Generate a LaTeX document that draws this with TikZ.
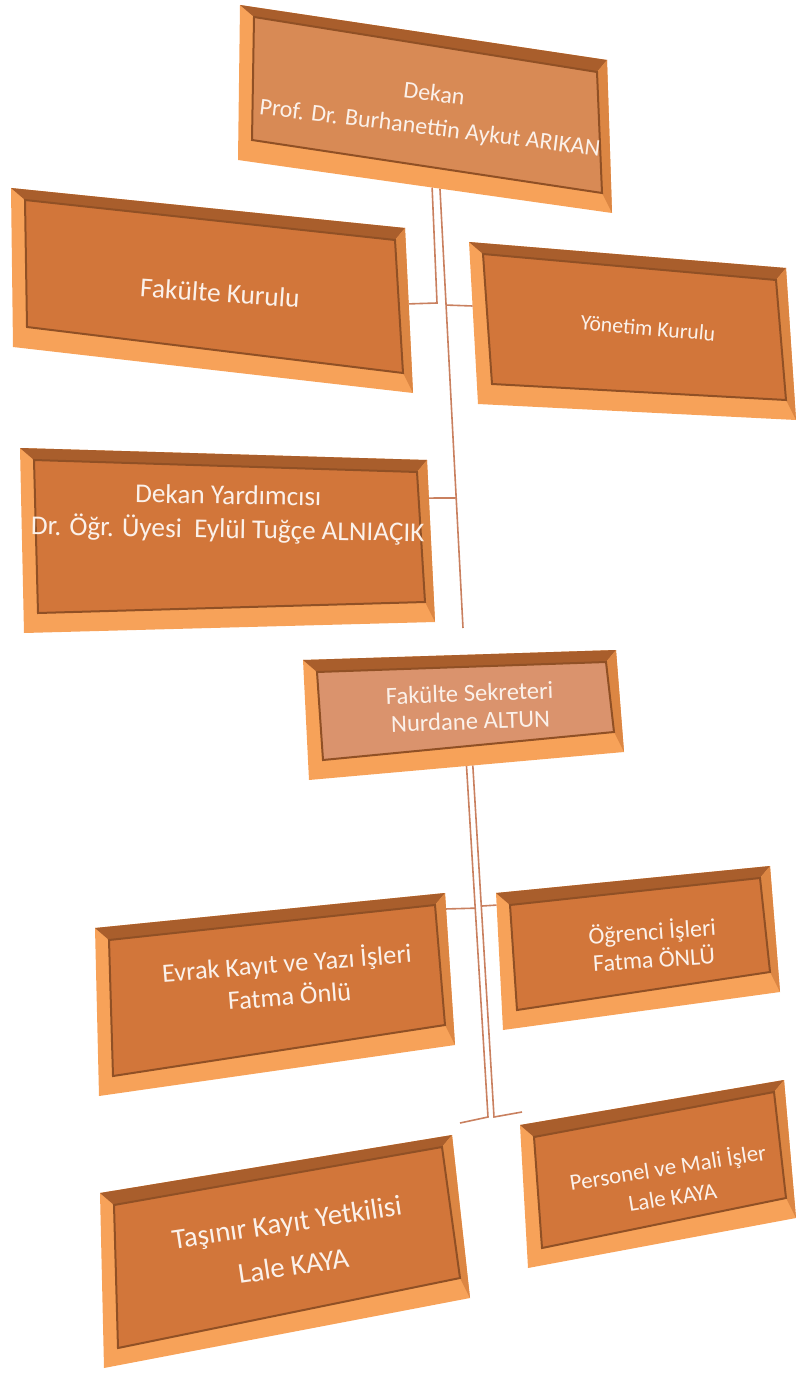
\documentclass[tikz,border=0pt]{standalone}
\usepackage{fontspec}
\setmainfont{Carlito}
\usetikzlibrary{calc,backgrounds}
\definecolor{framelight}{HTML}{F7A259}
\definecolor{frametop}{HTML}{A95E2C}
\definecolor{frameright}{HTML}{DC8643}
\definecolor{faceorange}{HTML}{D2763A}
\definecolor{facedekan}{HTML}{D88A55}
\definecolor{facesekreter}{HTML}{DA936D}
\definecolor{linkcolor}{HTML}{C9805F}
\definecolor{textwhite}{HTML}{FBF1EA}
\tikzset{x=0.5pt,y=-0.5pt,
	link/.style={draw=linkcolor, line width=0.8pt},
	boxtext/.style={text=textwhite, align=center, inner sep=0pt},
	bevel/.style={draw=frametop!85!black, line width=1pt}}

% #1 name, #2-#5 outer corners (tl, tr, br, bl), #6 face colour
\newcommand{\bevelbox}[6]{%
	\coordinate (#1-tl) at #2; \coordinate (#1-tr) at #3;
	\coordinate (#1-br) at #4; \coordinate (#1-bl) at #5;
	\coordinate (#1-itl) at ($(#1-tl)+(14,12)$);
	\coordinate (#1-itr) at ($(#1-tr)+(-10,12)$);
	\coordinate (#1-ibr) at ($(#1-br)+(-10,-20)$);
	\coordinate (#1-ibl) at ($(#1-bl)+(14,-20)$);
	\fill[framelight] (#1-tl) -- (#1-tr) -- (#1-br) -- (#1-bl) -- cycle;
	\fill[frametop] (#1-tl) -- (#1-tr) -- (#1-itr) -- (#1-itl) -- cycle;
	\fill[frameright] (#1-tr) -- (#1-br) -- (#1-ibr) -- (#1-itr) -- cycle;
	\fill[#6, bevel] (#1-itl) -- (#1-itr) -- (#1-ibr) -- (#1-ibl) -- cycle;
}

\begin{document}
\begin{tikzpicture}
	\useasboundingbox (0,0) rectangle (796,1374);

	% boxes
	\bevelbox{dekan}{(240,5)}{(607,60)}{(612,213)}{(238,160)}{facedekan}
	\bevelbox{kurul}{(11,188)}{(405,228)}{(413,393)}{(13,347)}{faceorange}
	\bevelbox{yonetim}{(469,242)}{(786,268)}{(796,420)}{(478,404)}{faceorange}
	\bevelbox{yardimci}{(20,448)}{(427,460)}{(435,622)}{(24,633)}{faceorange}
	\bevelbox{sekreter}{(303,660)}{(616,650)}{(624,752)}{(309,780)}{facesekreter}
	\bevelbox{evrak}{(95,928)}{(445,893)}{(455,1045)}{(99,1096)}{faceorange}
	\bevelbox{ogrenci}{(496,893)}{(770,866)}{(780,992)}{(503,1030)}{faceorange}
	\bevelbox{tasinir}{(100,1193)}{(452,1135)}{(470,1298)}{(104,1368)}{faceorange}
	\bevelbox{personel}{(520,1125)}{(784,1080)}{(796,1218)}{(528,1268)}{faceorange}

	% texts
	\node[boxtext, rotate=-7, font=\fontsize{12}{17}\selectfont] (dekan) at (432,112)
		{Dekan\\Prof. Dr. Burhanettin Aykut ARIKAN};
	\node[boxtext, rotate=-4, font=\fontsize{13.7}{16}\selectfont] (kurul) at (220,293)
		{Fakülte Kurulu};
	\node[boxtext, rotate=-5, font=\fontsize{10.9}{13}\selectfont] (yonetim) at (648,328)
		{Yönetim Kurulu};
	\node[boxtext, rotate=-1, font=\fontsize{13.6}{17}\selectfont] (yardimci) at (228,514)
		{Dekan Yardımcısı\\Dr. Öğr. Üyesi~ Eylül Tuğçe ALNIAÇIK};
	\node[boxtext, rotate=2, font=\fontsize{12.3}{14}\selectfont] (sekreter) at (470,707)
		{Fakülte Sekreteri\\Nurdane ALTUN};
	\node[boxtext, rotate=4.5, font=\fontsize{13.2}{16.5}\selectfont] (evrak) at (288,978)
		{Evrak Kayıt ve Yazı İşleri\\Fatma Önlü};
	\node[boxtext, rotate=4, font=\fontsize{12}{14}\selectfont] (ogrenci) at (653,944)
		{Öğrenci İşleri\\Fatma ÖNLÜ};
	\node[boxtext, rotate=8.5, font=\fontsize{14.4}{22}\selectfont] (tasinir) at (290,1244)
		{Taşınır Kayıt Yetkilisi\\Lale KAYA};
	\node[boxtext, rotate=9, font=\fontsize{11.5}{15}\selectfont] (personel) at (670,1181)
		{Personel ve Mali İşler\\Lale KAYA};

	% connectors
	\begin{scope}[on background layer]
		\coordinate (up1) at ($(dekan-bl)!.519!(dekan-br)$);
		\coordinate (up2) at ($(dekan-bl)!.54!(dekan-br)$);
		\coordinate (up1-turn) at (437,303);
		\coordinate (up2-end) at (463,628);
		\coordinate (kurul-e) at ($(kurul-tr)!.46!(kurul-br)$);
		\coordinate (yonetim-w) at ($(yonetim-tl)!.395!(yonetim-bl)$);
		\coordinate (yardimci-e) at ($(yardimci-tr)!.235!(yardimci-br)$);
		\draw[link] (up1) -- (up1-turn) -- (kurul-e);
		\draw[link] (up2) -- (up2-end);
		\draw[link] ($(up2)!.265!(up2-end)$) -- (yonetim-w);
		\draw[link] ($(up2)!.704!(up2-end)$) -- (yardimci-e);

		\coordinate (low1) at ($(sekreter-bl)!.50!(sekreter-br)$);
		\coordinate (low2) at ($(sekreter-bl)!.52!(sekreter-br)$);
		\coordinate (low1-end) at (488,1117);
		\coordinate (low2-end) at (494,1117);
		\coordinate (evrak-e) at ($(evrak-tr)!.105!(evrak-br)$);
		\coordinate (ogrenci-w) at ($(ogrenci-tl)!.088!(ogrenci-bl)$);
		\coordinate (tasinir-stub) at (460,1123);
		\coordinate (personel-stub) at (522,1112);
		\draw[link] (low1) -- (low1-end) -- (tasinir-stub);
		\draw[link] (low2) -- (low2-end) -- (personel-stub);
		\draw[link] ($(low1)!.405!(low1-end)$) -- (evrak-e);
		\draw[link] ($(low2)!.40!(low2-end)$) -- (ogrenci-w);
	\end{scope}
\end{tikzpicture}
\end{document}
